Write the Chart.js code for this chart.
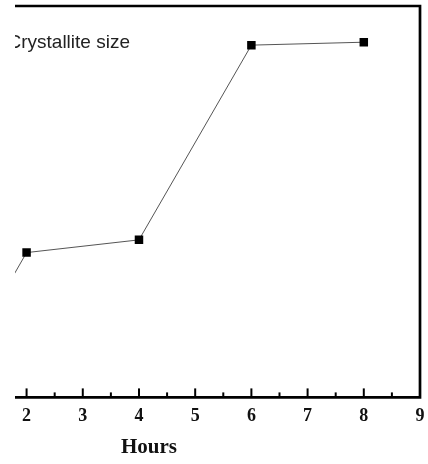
<!DOCTYPE html>
<html>
<head>
<meta charset="utf-8">
<script src="https://cdn.jsdelivr.net/npm/chart.js@4"></script>
<style>
  html, body { margin: 0; padding: 0; background: #fff; }
</style>
</head>
<body>
<canvas id="chart" width="428" height="464"></canvas>
<script>
// data (y in arbitrary units, axis not shown)
const hours = [1, 2, 4, 6, 8];
const crystalliteSize = [4.8, 14.8, 16.1, 36.0, 36.3];
const xTickLabels = [2, 3, 4, 5, 6, 7, 8, 9];

const seriesName = 'Crystallite size';
const xTitle = 'Hours';

// frame, inward ticks and the texts that sit off-centre
const framePlugin = {
    id: 'frame',
    afterDraw(chart) {
        const ctx = chart.ctx;
        const area = chart.chartArea;
        const x = chart.scales.x;

        ctx.save();
        ctx.strokeStyle = '#000';
        ctx.lineWidth = 2.7;
        ctx.beginPath();
        ctx.moveTo(area.left, area.top);
        ctx.lineTo(area.right, area.top);
        ctx.lineTo(area.right, area.bottom);
        ctx.lineTo(area.left, area.bottom);
        ctx.stroke();

        ctx.lineWidth = 2;
        x.ticks.forEach(t => {
            const px = x.getPixelForValue(t.value);
            const len = Number.isInteger(t.value) ? 9 : 5;
            ctx.beginPath();
            ctx.moveTo(px, area.bottom);
            ctx.lineTo(px, area.bottom - len);
            ctx.stroke();
        });

        // series label, cut by the plot's left edge like in the source
        ctx.beginPath();
        ctx.rect(area.left, area.top, area.right - area.left, area.bottom - area.top);
        ctx.clip();
        ctx.fillStyle = '#222';
        ctx.font = '19px "Liberation Sans", Arial, sans-serif';
        ctx.textAlign = 'left';
        ctx.textBaseline = 'alphabetic';
        ctx.fillText(seriesName, 7.5, 48);
        ctx.restore();

        ctx.save();
        ctx.fillStyle = '#111';
        ctx.font = 'bold 21px "Liberation Serif", "Times New Roman", serif';
        ctx.textAlign = 'center';
        ctx.textBaseline = 'alphabetic';
        ctx.fillText(xTitle, 149, 453);
        ctx.restore();
    }
};

const ctx = document.getElementById('chart').getContext('2d');
new Chart(ctx, {
    type: 'line',
    data: {
        datasets: [{
            data: hours.map((h, i) => ({ x: h, y: crystalliteSize[i] })),
            borderColor: '#555',
            borderWidth: 1,
            pointStyle: 'rect',
            pointRadius: 6,
            pointBackgroundColor: '#000',
            pointBorderColor: '#000',
            pointBorderWidth: 0,
            tension: 0
        }]
    },
    options: {
        responsive: false,
        animation: false,
        layout: { padding: { left: 15, top: 5, right: 8, bottom: 37 } },
        plugins: {
            legend: { display: false },
            tooltip: { enabled: false }
        },
        scales: {
            x: {
                type: 'linear',
                min: 1.794,
                max: 9,
                grid: { display: false },
                border: { display: false },
                ticks: {
                    stepSize: 0.5,
                    includeBounds: false,
                    autoSkip: false,
                    maxRotation: 0,
                    padding: 0,
                    color: '#111',
                    font: { family: '"Liberation Serif", "Times New Roman", serif', size: 18, weight: 'bold' },
                    callback: v => xTickLabels.includes(v) ? String(v) : ''
                }
            },
            y: {
                display: false,
                min: 0,
                max: 40
            }
        }
    },
    plugins: [framePlugin]
});
</script>
</body>
</html>
